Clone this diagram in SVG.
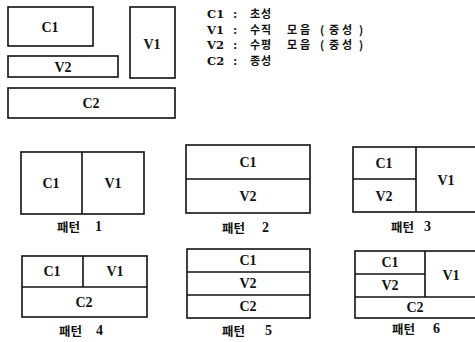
<svg xmlns="http://www.w3.org/2000/svg" width="475" height="342" viewBox="0 0 475 342">
<style>
rect, line { fill: none; stroke: #111; stroke-width: 1.6; }
.bg { fill: #fff; stroke: none; }
.t { font-family: "Liberation Serif", "DejaVu Serif", serif; font-weight: bold; font-size: 14px; fill: #111; text-anchor: middle; dominant-baseline: central; }
.lg { font-family: "DejaVu Serif", "Liberation Serif", serif; font-weight: bold; font-size: 11.5px; fill: #111; }
.k { font-family: "Noto Sans CJK KR", sans-serif; font-weight: bold; font-size: 11px; fill: #111; letter-spacing: 1px; }
.w { letter-spacing: 3px; }
.lb { font-family: "Noto Sans CJK KR", sans-serif; font-weight: bold; font-size: 12.5px; fill: #111; dominant-baseline: central; }
.n { font-family: "Liberation Serif", serif; font-weight: bold; font-size: 14px; fill: #111; dominant-baseline: central; }
</style>
<rect class="bg" x="0" y="0" width="475" height="342"/>

<g id="legend-boxes">
  <g id="box-C1"><rect x="8" y="7" width="85" height="39"/><text class="t" x="50" y="27">C1</text></g>
  <g id="box-V2"><rect x="8" y="56" width="110" height="21"/><text class="t" x="63" y="67">V2</text></g>
  <g id="box-C2"><rect x="8" y="88" width="167" height="30"/><text class="t" x="91" y="103">C2</text></g>
  <g id="box-V1"><rect x="130" y="7" width="45" height="71"/><text class="t" x="152" y="44">V1</text></g>
</g>

<g id="legend-text">
  <text class="lg" x="207" y="18">C1<tspan x="233">:</tspan></text>
  <text class="k" x="250" y="18">초성</text>
  <text class="lg" x="207" y="33.5">V1<tspan x="233">:</tspan></text>
  <text class="k" x="250" y="33.5">수직<tspan class="w" x="287">모음</tspan><tspan x="320">(</tspan><tspan class="w" x="329">중성</tspan><tspan x="359">)</tspan></text>
  <text class="lg" x="207" y="49">V2<tspan x="233">:</tspan></text>
  <text class="k" x="250" y="49">수평<tspan class="w" x="287">모음</tspan><tspan x="320">(</tspan><tspan class="w" x="329">중성</tspan><tspan x="359">)</tspan></text>
  <text class="lg" x="207" y="64.5">C2<tspan x="233">:</tspan></text>
  <text class="k" x="250" y="64.5">종성</text>
</g>

<g id="pattern-1">
  <rect x="21" y="152" width="123" height="62"/>
  <line x1="82" y1="152" x2="82" y2="214"/>
  <text class="t" x="51" y="183">C1</text>
  <text class="t" x="113" y="183">V1</text>
  <text class="lb" x="57" y="226">패턴</text><text class="n" x="95" y="226.5">1</text>
</g>

<g id="pattern-2">
  <rect x="186" y="145" width="124" height="68"/>
  <line x1="186" y1="179" x2="310" y2="179"/>
  <text class="t" x="248" y="162">C1</text>
  <text class="t" x="248" y="196">V2</text>
  <text class="lb" x="222" y="227">패턴</text><text class="n" x="262" y="227.5">2</text>
</g>

<g id="pattern-3">
  <rect x="353" y="147" width="124" height="65"/>
  <line x1="416" y1="147" x2="416" y2="212"/>
  <line x1="353" y1="179" x2="416" y2="179"/>
  <text class="t" x="384" y="163">C1</text>
  <text class="t" x="384" y="196">V2</text>
  <text class="t" x="446" y="180">V1</text>
  <text class="lb" x="391" y="226">패턴</text><text class="n" x="424" y="226.5">3</text>
</g>

<g id="pattern-4">
  <rect x="22" y="256" width="125" height="61"/>
  <line x1="22" y1="287" x2="147" y2="287"/>
  <line x1="83" y1="256" x2="83" y2="287"/>
  <text class="t" x="52" y="271">C1</text>
  <text class="t" x="115" y="271">V1</text>
  <text class="t" x="84" y="302">C2</text>
  <text class="lb" x="59" y="330">패턴</text><text class="n" x="96" y="330.5">4</text>
</g>

<g id="pattern-5">
  <rect x="187" y="249" width="123" height="69"/>
  <line x1="187" y1="272" x2="310" y2="272"/>
  <line x1="187" y1="295" x2="310" y2="295"/>
  <text class="t" x="248" y="260">C1</text>
  <text class="t" x="248" y="283.5">V2</text>
  <text class="t" x="248" y="306.5">C2</text>
  <text class="lb" x="222" y="330">패턴</text><text class="n" x="265" y="330.5">5</text>
</g>

<g id="pattern-6">
  <rect x="355" y="251" width="122" height="67"/>
  <line x1="425" y1="251" x2="425" y2="297"/>
  <line x1="355" y1="274" x2="425" y2="274"/>
  <line x1="355" y1="297" x2="477" y2="297"/>
  <text class="t" x="390" y="262">C1</text>
  <text class="t" x="390" y="285.5">V2</text>
  <text class="t" x="451" y="275">V1</text>
  <text class="t" x="415" y="307.5">C2</text>
  <text class="lb" x="392" y="328">패턴</text><text class="n" x="433" y="328.5">6</text>
</g>
</svg>
